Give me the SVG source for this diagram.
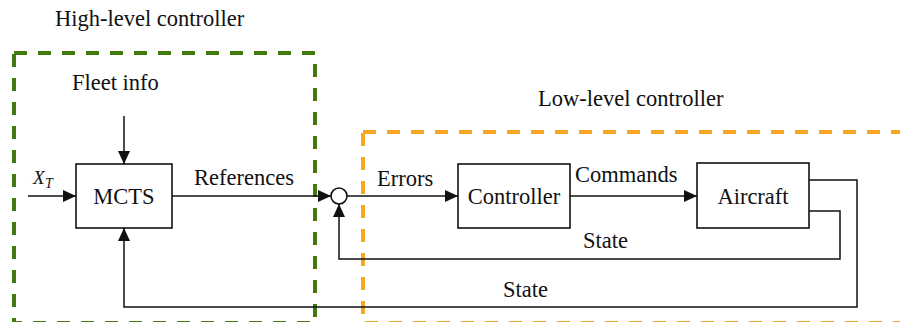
<svg xmlns="http://www.w3.org/2000/svg" width="900" height="322" viewBox="0 0 900 322" font-family="'Liberation Serif', 'DejaVu Serif', 'Times New Roman', serif">
  <style>
    text { font-family: "Liberation Serif", "DejaVu Serif", "Times New Roman", serif; font-size: 22.5px; fill: #111; }
    .box { fill: #fff; stroke: #111; stroke-width: 1.6; }
    .wire { fill: none; stroke: #111; stroke-width: 1.5; }
    .group-hl { fill: none; stroke: #437a0d; stroke-width: 4; stroke-dasharray: 13 11; }
    .group-ll { fill: none; stroke: #f5a623; stroke-width: 4; stroke-dasharray: 13 11; }
    .mid { text-anchor: middle; }
  </style>
  <defs>
    <marker id="arrow" viewBox="0 0 13 12" refX="13" refY="6" markerWidth="13" markerHeight="12" markerUnits="userSpaceOnUse" orient="auto">
      <path d="M0,0 L13,6 L0,12 Z" fill="#111"/>
    </marker>
  </defs>

  <!-- controller groupings -->
  <g id="high-level-controller">
    <rect class="group-hl" x="14" y="53" width="301" height="270"/>
    <text x="55" y="26">High-level controller</text>
  </g>
  <g id="low-level-controller">
    <rect class="group-ll" x="363" y="132" width="560" height="191"/>
    <text x="538" y="106">Low-level controller</text>
  </g>

  <!-- connectors -->
  <g id="connectors">
    <path class="wire" d="M124,116 V164" marker-end="url(#arrow)"/>
    <path class="wire" d="M28,196 H76" marker-end="url(#arrow)"/>
    <path class="wire" d="M172,196 H331" marker-end="url(#arrow)"/>
    <path class="wire" d="M347,196 H458" marker-end="url(#arrow)"/>
    <path class="wire" d="M570,196 H697" marker-end="url(#arrow)"/>
    <path class="wire" d="M809,211 H840 V259 H339 V204" marker-end="url(#arrow)"/>
    <path class="wire" d="M809,180 H857 V307 H124 V228" marker-end="url(#arrow)"/>
    <text x="72" y="90">Fleet info</text>
    <text x="33" y="184" style="font-style:italic;font-size:19px">X</text>
    <text x="45" y="188" style="font-style:italic;font-size:14px">T</text>
    <text x="194" y="185">References</text>
    <text x="377" y="186">Errors</text>
    <text x="575" y="182">Commands</text>
    <text x="583" y="248">State</text>
    <text x="503" y="297">State</text>
  </g>

  <!-- blocks -->
  <g id="mcts">
    <rect class="box" x="76" y="164" width="96" height="64"/>
    <text class="mid" x="124" y="204">MCTS</text>
  </g>
  <g id="sum">
    <circle class="box" cx="339" cy="196" r="8"/>
  </g>
  <g id="controller">
    <rect class="box" x="458" y="164" width="112" height="64"/>
    <text class="mid" x="514" y="204">Controller</text>
  </g>
  <g id="aircraft">
    <rect class="box" x="697" y="163" width="112" height="65"/>
    <text class="mid" x="753" y="204">Aircraft</text>
  </g>
</svg>
